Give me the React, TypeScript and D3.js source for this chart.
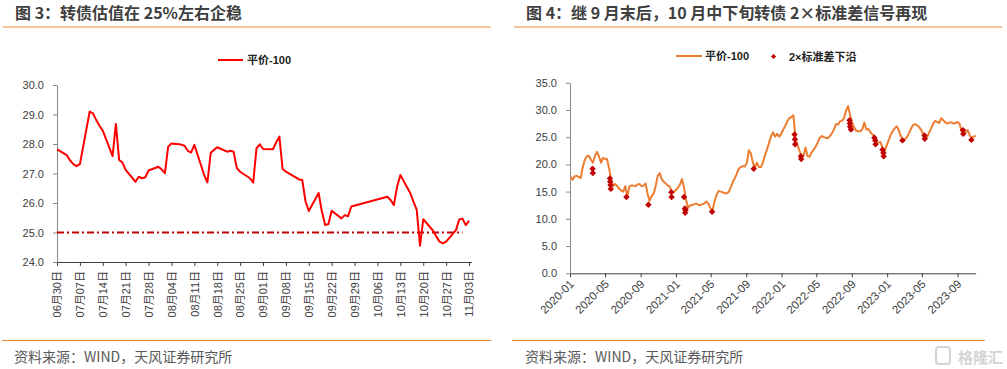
import React, { useEffect, useRef } from "react";
import * as d3 from "d3";

const W = 1007;
const H = 369;

// 图3 data (2023 trading days)
const dates3 = [
  "2023-06-30", "2023-07-03", "2023-07-04", "2023-07-05", "2023-07-06", "2023-07-07",
  "2023-07-10", "2023-07-11", "2023-07-12", "2023-07-13", "2023-07-14",
  "2023-07-17", "2023-07-18", "2023-07-19", "2023-07-20", "2023-07-21",
  "2023-07-24", "2023-07-25", "2023-07-26", "2023-07-27", "2023-07-28",
  "2023-07-31", "2023-08-01", "2023-08-02", "2023-08-03", "2023-08-04",
  "2023-08-07", "2023-08-08", "2023-08-09", "2023-08-10", "2023-08-11",
  "2023-08-14", "2023-08-15", "2023-08-16", "2023-08-17", "2023-08-18",
  "2023-08-21", "2023-08-22", "2023-08-23", "2023-08-24", "2023-08-25",
  "2023-08-28", "2023-08-29", "2023-08-30", "2023-08-31", "2023-09-01",
  "2023-09-04", "2023-09-05", "2023-09-06", "2023-09-07", "2023-09-08",
  "2023-09-11", "2023-09-12", "2023-09-13", "2023-09-14", "2023-09-15",
  "2023-09-18", "2023-09-19", "2023-09-20", "2023-09-21", "2023-09-22",
  "2023-09-25", "2023-09-26", "2023-09-27", "2023-09-28",
  "2023-10-09", "2023-10-10", "2023-10-11", "2023-10-12", "2023-10-13",
  "2023-10-16", "2023-10-17", "2023-10-18", "2023-10-19", "2023-10-20",
  "2023-10-23", "2023-10-24", "2023-10-25", "2023-10-26", "2023-10-27",
  "2023-10-30", "2023-10-31", "2023-11-01", "2023-11-02", "2023-11-03",
];
const price3 = [
  27.82, 27.62, 27.44, 27.32, 27.25, 27.32,
  29.1, 29.04, 28.81, 28.62, 28.45,
  27.59, 28.68, 27.46, 27.37, 27.12,
  26.72, 26.89, 26.84, 26.87, 27.1,
  27.23, 27.14, 27.01, 27.91, 28.02,
  27.98, 27.94, 27.77, 27.71, 27.97,
  26.95, 26.7, 27.7, 27.8, 27.89,
  27.74, 27.77, 27.74, 27.18, 27.06,
  26.84, 26.69, 27.85, 27.99, 27.83,
  27.82, 28.05, 28.25, 27.15, 27.06,
  26.87, 26.8, 26.78, 26.05, 25.73,
  26.34, 25.71, 25.25, 25.29, 25.74,
  25.48, 25.59, 25.55, 25.88,
  26.21, 26.1, 25.93, 26.55, 26.95,
  26.34, 26.05, 25.77, 24.55, 25.45,
  25.06, 24.86, 24.69, 24.63, 24.69,
  25.08, 25.44, 25.47, 25.25, 25.4,
];
const level3 = 25;
const levelEnd3 = "2023-11-01";
const yTicks3 = [24, 25, 26, 27, 28, 29, 30];

// 图4 data (weekly, from 2020-01-03)
const start4 = "2020-01-03";
const price4 = [
  17.7, 17.2, 17.8, 17.9, 17.7, 17.5, 19.5, 20.8, 21.5, 21.6,
  20.9, 20.3, 21.5, 22.3, 21.5, 20.3, 21.2, 21.0, 21.0, 19.3,
  17.2, 16.0, 16.4, 16.0, 15.5, 15.2, 15.0, 16.0, 14.1, 15.9,
  16.1, 16.1, 16.0, 16.3, 16.4, 16.0, 16.1, 16.5, 14.6, 13.3,
  14.2, 14.6, 16.0, 17.9, 18.4, 17.3, 16.8, 16.5, 16.1, 15.9,
  14.8, 14.9, 15.3, 15.7, 16.3, 17.3, 15.8, 13.5, 12.0, 12.5,
  12.5, 12.7, 12.8, 12.6, 12.5, 12.7, 12.8, 13.2, 12.8, 12.0,
  11.4, 13.1, 14.3, 15.1, 15.0, 14.9, 14.7, 14.7, 14.9, 15.7,
  16.7, 17.4, 18.2, 19.2, 19.5, 19.7, 19.6, 20.2, 22.6, 22.0,
  20.3, 19.4, 20.3, 19.5, 19.5, 20.4, 21.7, 22.8, 24.0, 25.2,
  25.9, 25.1, 25.6, 25.1, 25.6, 26.4, 27.1, 27.9, 28.5, 28.7,
  29.0, 25.0, 23.6, 22.5, 21.5, 21.6, 23.1, 21.5, 21.4, 22.2,
  22.7, 23.3, 24.0, 24.9, 25.2, 25.0, 24.9, 24.8, 25.2, 25.7,
  26.4, 27.4, 27.3, 27.9, 28.0, 28.5, 29.9, 30.7, 29.0, 27.6,
  26.8, 26.2, 26.1, 26.1, 26.4, 27.7, 26.4, 26.5, 25.9, 25.5,
  25.2, 24.0, 24.0, 24.1, 23.0, 22.4, 23.4, 24.4, 25.4, 26.1,
  26.6, 27.0, 26.3, 25.2, 24.6, 24.6, 25.0, 25.7, 26.5, 27.2,
  27.4, 27.2, 26.9, 26.4, 25.6, 24.9, 25.0, 25.8, 26.6, 27.5,
  28.0, 27.8, 27.6, 28.5, 28.1, 27.7, 27.5, 27.7, 27.7, 27.5,
  27.6, 27.8, 27.5, 26.1, 25.6, 25.9, 26.3, 25.4, 24.8, 25.1, 25.3,
];
const signalDates4 = [
  "2020-03-19", "2020-03-20",
  "2020-05-18", "2020-05-19", "2020-05-20", "2020-05-21",
  "2020-07-14", "2020-09-28", "2020-12-16", "2020-12-17",
  "2021-01-29", "2021-02-01", "2021-02-02", "2021-02-03",
  "2021-05-06", "2021-09-27",
  "2022-02-15", "2022-02-16", "2022-02-17",
  "2022-03-09", "2022-03-10",
  "2022-08-24", "2022-08-25", "2022-08-26", "2022-08-29",
  "2022-11-18", "2022-11-21", "2022-11-22",
  "2022-12-16", "2022-12-19", "2022-12-20",
  "2023-02-23", "2023-05-10", "2023-05-11",
  "2023-09-20", "2023-09-21", "2023-10-19",
];
const signalValues4 = [
  19.2, 18.4,
  17.4, 16.8, 16.2, 15.5,
  14.0, 12.6, 14.9, 14.0,
  14.0, 11.9, 11.1, 11.6,
  11.3, 19.2,
  25.5, 24.6, 23.7,
  21.5, 21.0,
  28.1, 27.5, 26.9, 26.4,
  24.9, 24.4, 23.7,
  22.7, 22.1, 21.5,
  24.4, 25.3, 24.7,
  26.3, 25.6, 24.5,
];
const yTicks4 = [0, 5, 10, 15, 20, 25, 30, 35];

const parse = d3.timeParse("%Y-%m-%d");
const FONT = '"Liberation Sans", "Noto Sans CJK SC", sans-serif';
const CJK = '"Noto Sans CJK SC", sans-serif';
const ORANGE_RULE = "#E98A3A";
const TEXT = "#404040";

export default function App() {
  const svgRef = useRef<SVGSVGElement>(null);

  useEffect(() => {
    const svg = d3.select(svgRef.current);
    svg.selectAll("*").remove();

    svg.append("rect").attr("width", W).attr("height", H).attr("fill", "#fff");

    // headers and footers
    const titles = [
      { x: 15, text: "图 3：转债估值在 25%左右企稳", r0: 3, r1: 491, b0: 2, b1: 491 },
      { x: 526, text: "图 4：继 9 月末后，10 月中下旬转债 2×标准差信号再现", r0: 514, r1: 1002, b0: 512, b1: 985 },
    ];
    titles.forEach((t) => {
      svg.append("text").attr("x", t.x).attr("y", 12).attr("dominant-baseline", "central")
        .style("font-family", CJK).style("font-size", "16px").style("font-weight", "bold")
        .attr("fill", TEXT).text(t.text);
      svg.append("line").attr("x1", t.r0).attr("x2", t.r1).attr("y1", 27).attr("y2", 27)
        .attr("stroke", ORANGE_RULE).attr("stroke-width", 1.2);
      svg.append("line").attr("x1", t.b0).attr("x2", t.b1).attr("y1", 340.5).attr("y2", 340.5)
        .attr("stroke", ORANGE_RULE).attr("stroke-width", 1.2);
      svg.append("text").attr("x", t.x - 1).attr("y", 356).attr("dominant-baseline", "central")
        .style("font-family", CJK).style("font-size", "14px")
        .attr("fill", "#595959").text("资料来源：WIND，天风证券研究所");
    });

    // watermark
    svg.append("rect").attr("x", 936).attr("y", 347).attr("width", 14).attr("height", 17)
      .attr("rx", 3).attr("fill", "none").attr("stroke", "#d4d4d4").attr("stroke-width", 2);
    svg.append("text").attr("x", 1003).attr("y", 356).attr("text-anchor", "end")
      .attr("dominant-baseline", "central").style("font-family", CJK).style("font-size", "15px")
      .style("font-weight", "bold").attr("fill", "#d4d4d4").text("格隆汇");

    // ---------- 图3 ----------
    const d3dates = dates3.map((d) => parse(d) as Date);
    const x3 = d3.scaleTime()
      .domain([d3dates[0], new Date(2023, 10, 3, 18)])
      .range([57, 471.5]);
    const y3 = d3.scaleLinear().domain([24, 30]).range([262, 85]);

    const g3 = svg.append("g");

    const ticks3 = d3.range(19).map((i) => d3.timeDay.offset(d3dates[0], 7 * i));
    const xAxis3 = g3.append("g").attr("transform", "translate(0,262)")
      .call(d3.axisBottom(x3).tickValues(ticks3).tickSizeInner(4).tickSizeOuter(0)
        .tickFormat(d3.timeFormat("%m月%d日") as any));
    xAxis3.select(".domain").attr("stroke", "#404040");
    xAxis3.selectAll(".tick line").attr("stroke", "#404040");
    xAxis3.selectAll("text")
      .attr("transform", "rotate(-90)").attr("text-anchor", "end")
      .attr("x", -9).attr("y", 0).attr("dy", "0.35em")
      .style("font-family", FONT).style("font-size", "11px").attr("fill", TEXT);

    const yAxis3 = g3.append("g").attr("transform", "translate(57,0)")
      .call(d3.axisLeft(y3).tickValues(yTicks3).tickSizeInner(4).tickSizeOuter(0)
        .tickFormat(d3.format(".1f")));
    yAxis3.select(".domain").attr("stroke", "#898989");
    yAxis3.selectAll(".tick line").attr("stroke", "#898989");
    yAxis3.selectAll("text").attr("x", -13)
      .style("font-family", FONT).style("font-size", "11px").attr("fill", TEXT);

    // 25 reference line
    g3.append("line")
      .attr("x1", x3(d3dates[0])).attr("x2", x3(parse(levelEnd3) as Date))
      .attr("y1", y3(level3)).attr("y2", y3(level3))
      .attr("stroke", "#C00000").attr("stroke-width", 2).attr("stroke-dasharray", "7,3,2,3");

    const line3 = d3.line<number>()
      .x((_, i) => x3(d3dates[i]))
      .y((d) => y3(d));
    g3.append("path").datum(price3).attr("d", line3).attr("fill", "none")
      .attr("stroke", "#FF0000").attr("stroke-width", 2).attr("stroke-linejoin", "round");

    // legend
    g3.append("line").attr("x1", 218).attr("x2", 243).attr("y1", 60).attr("y2", 60)
      .attr("stroke", "#FF0000").attr("stroke-width", 2);
    g3.append("text").attr("x", 247).attr("y", 60).attr("dominant-baseline", "central")
      .style("font-family", FONT).style("font-size", "11px").style("font-weight", "bold")
      .attr("fill", "#222").text("平价-100");

    // ---------- 图4 ----------
    const s4 = parse(start4) as Date;
    const dates4 = price4.map((_, i) => d3.timeDay.offset(s4, 7 * i));
    const x4 = d3.scaleTime()
      .domain([new Date(2020, 0, 1), new Date(2023, 10, 3)])
      .range([570, 975.7]);
    const y4 = d3.scaleLinear().domain([0, 35]).range([273.3, 82.7]);

    const g4 = svg.append("g");
    const xAxis4 = g4.append("g").attr("transform", "translate(0,273.3)")
      .call(d3.axisBottom(x4).ticks(d3.timeMonth.every(4)).tickSizeInner(4).tickSizeOuter(0)
        .tickFormat(d3.timeFormat("%Y-%m") as any));
    xAxis4.select(".domain").attr("stroke", "#404040");
    xAxis4.selectAll(".tick line").attr("stroke", "#404040");
    xAxis4.selectAll("text")
      .attr("transform", "rotate(-45)").attr("text-anchor", "end")
      .attr("x", -5).attr("y", 7).attr("dy", "0.35em")
      .style("font-family", FONT).style("font-size", "11.5px").attr("fill", TEXT);

    const yAxis4 = g4.append("g").attr("transform", "translate(570,0)")
      .call(d3.axisLeft(y4).tickValues(yTicks4).tickSizeInner(4).tickSizeOuter(0)
        .tickFormat(d3.format(".1f")));
    yAxis4.select(".domain").attr("stroke", "#898989");
    yAxis4.selectAll(".tick line").attr("stroke", "#898989");
    yAxis4.selectAll("text").attr("x", -13)
      .style("font-family", FONT).style("font-size", "11px").attr("fill", TEXT);

    const line4 = d3.line<number>()
      .x((_, i) => x4(dates4[i]))
      .y((d) => y4(d));
    g4.append("path").datum(price4).attr("d", line4).attr("fill", "none")
      .attr("stroke", "#ED7D31").attr("stroke-width", 2).attr("stroke-linejoin", "round");

    const marker = "M0,-3.2L3.2,0L0,3.2L-3.2,0Z";
    g4.selectAll(".sig").data(signalValues4).enter().append("path")
      .attr("class", "sig")
      .attr("d", marker)
      .attr("transform", (d, i) => `translate(${x4(parse(signalDates4[i]) as Date)},${y4(d)})`)
      .attr("fill", "#C00000");

    // legend
    g4.append("line").attr("x1", 676).attr("x2", 702).attr("y1", 56).attr("y2", 56)
      .attr("stroke", "#ED7D31").attr("stroke-width", 2);
    g4.append("text").attr("x", 705).attr("y", 56).attr("dominant-baseline", "central")
      .style("font-family", FONT).style("font-size", "11px").style("font-weight", "bold")
      .attr("fill", "#222").text("平价-100");
    g4.append("path").attr("d", "M0,-2.6L2.6,0L0,2.6L-2.6,0Z")
      .attr("transform", "translate(773.5,56.5)").attr("fill", "#C00000");
    g4.append("text").attr("x", 789).attr("y", 56.5).attr("dominant-baseline", "central")
      .style("font-family", FONT).style("font-size", "11px").style("font-weight", "bold")
      .attr("fill", "#222").text("2×标准差下沿");
  }, []);

  return (
    <svg
      ref={svgRef}
      width={W}
      height={H}
      style={{ position: "absolute", left: 0, top: 0, display: "block" }}
    />
  );
}
